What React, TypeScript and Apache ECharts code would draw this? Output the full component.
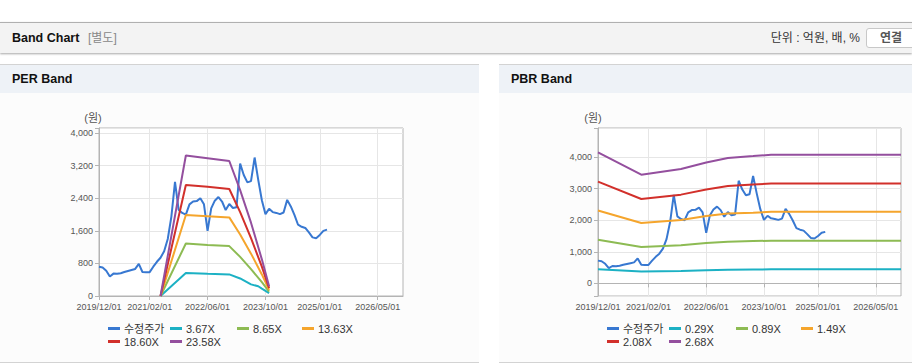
import React, { useEffect, useRef } from 'react';
import * as echarts from 'echarts';

// ---------- categories (monthly, 2019/12 .. 2026/12) ----------
const CATEGORIES: string[] = Array.from({ length: 85 }, (_, i) => {
  const m0 = 11 + i;
  const y = 2019 + Math.floor(m0 / 12);
  const m = (m0 % 12) + 1;
  return `${y}/${String(m).padStart(2, '0')}/01`;
});
const TICK_LABELS = ['2019/12/01', '2021/02/01', '2022/06/01', '2023/10/01', '2025/01/01', '2026/05/01'];

// ---------- price (수정주가), monthly from 2019/12 ----------
const PRICE = [
  720, 700, 620, 480, 550, 545, 560, 590, 615, 640,
  665, 790, 590, 585, 585, 720, 840, 940, 1100, 1400,
  1950, 2800, 2120, 2040, 2000, 2250, 2320, 2330, 2400, 2250,
  1600, 2150, 2340, 2430, 2320, 2110, 2260, 2160, 2180, 3250,
  2970, 2790, 2820, 3400, 2850, 2350, 2010, 2140, 2060, 2040,
  2010, 2050, 2360, 2200, 1990, 1750, 1700, 1670, 1560, 1440,
  1420, 1500, 1600, 1630,
];

// ---------- PER band lines ----------
const PER_NAMES = ['3.67X', '8.65X', '13.63X', '18.60X', '23.58X'];
const PER_367: [string, number][] = [
  ['2021/05/01', 0], ['2021/12/01', 565], ['2022/06/01', 545], ['2022/12/01', 530],
  ['2023/03/01', 430], ['2023/06/01', 285], ['2023/08/01', 240], ['2023/09/01', 180], ['2023/11/01', 70],
];
const PER_865: [string, number][] = [
  ['2021/05/01', 0], ['2021/12/01', 1290], ['2022/06/01', 1255], ['2022/12/01', 1225],
  ['2023/03/01', 960], ['2023/06/01', 660], ['2023/09/01', 340], ['2023/11/01', 110],
];
const PER_1363: [string, number][] = [
  ['2021/05/01', 0], ['2021/12/01', 1988], ['2022/06/01', 1960], ['2022/12/01', 1930],
  ['2023/03/01', 1510], ['2023/06/01', 1040], ['2023/09/01', 530], ['2023/11/01', 150],
];
const PER_1860: [string, number][] = [
  ['2021/05/01', 0], ['2021/12/01', 2727], ['2022/06/01', 2680], ['2022/12/01', 2628],
  ['2023/03/01', 2060], ['2023/06/01', 1420], ['2023/09/01', 720], ['2023/11/01', 195],
];
const PER_2358: [string, number][] = [
  ['2021/05/01', 0], ['2021/12/01', 3450], ['2022/06/01', 3385], ['2022/12/01', 3315],
  ['2023/03/01', 2600], ['2023/06/01', 1800], ['2023/09/01', 900], ['2023/11/01', 240],
];

// ---------- PBR band lines ----------
const PBR_NAMES = ['0.29X', '0.89X', '1.49X', '2.08X', '2.68X'];
const PBR_DATES = ['2019/12/01', '2020/12/01', '2021/11/01', '2022/06/01', '2022/12/01', '2023/07/01', '2023/12/01', '2026/12/01'];
const PBR_029 = [450, 375, 390, 415, 430, 440, 445, 445];
const PBR_089 = [1380, 1150, 1205, 1275, 1320, 1340, 1350, 1350];
const PBR_149 = [2310, 1910, 2010, 2130, 2210, 2240, 2265, 2265];
const PBR_208 = [3220, 2670, 2810, 2970, 3080, 3130, 3160, 3160];
const PBR_268 = [4150, 3440, 3620, 3830, 3970, 4030, 4075, 4075];

const PRICE_NAME = '수정주가';
const COLORS = ['#3878d1', '#1cb1c4', '#8dbb53', '#f5a52c', '#d2302b', '#944f9e'];
const FONT = "'Liberation Sans', 'Noto Sans CJK KR', sans-serif";

const tickIdx = new Set(TICK_LABELS.map((t) => CATEGORIES.indexOf(t)));
const showTick = (i: number) => tickIdx.has(i);
const fmtNum = (step: number) => (v: number) =>
  v % step === 0 && v >= 0 ? String(v).replace(/\B(?=(\d{3})+(?!\d))/g, ',') : '';

function buildOption() {
  const grids = [
    { left: 99, top: 128, width: 304, height: 168 },
    { left: 598, top: 128, width: 303, height: 168 },
  ].map((g) => ({ ...g, show: true, borderColor: '#b4b4b4', borderWidth: 1, backgroundColor: '#ffffff' }));

  const xAxis = [0, 1].map((gi) => ({
    type: 'category',
    gridIndex: gi,
    data: CATEGORIES,
    boundaryGap: false,
    axisLine: { show: true, lineStyle: { color: '#b4b4b4' } },
    axisTick: { show: true, interval: showTick, length: 4, lineStyle: { color: '#b4b4b4' } },
    axisLabel: { interval: showTick, fontSize: 9, color: '#555', margin: 6, fontFamily: FONT },
    splitLine: { show: true, interval: showTick, lineStyle: { color: '#e6e6e6' } },
  }));

  const yAxis = [
    {
      type: 'value', gridIndex: 0, min: 0, max: 4125, interval: 800,
      axisLine: { show: true, lineStyle: { color: '#b4b4b4' } },
      axisTick: { show: true, length: 4, lineStyle: { color: '#b4b4b4' } },
      axisLabel: { formatter: fmtNum(800), fontSize: 9, color: '#555', margin: 6, fontFamily: FONT },
      splitLine: { show: true, lineStyle: { color: '#e6e6e6' } },
    },
    {
      type: 'value', gridIndex: 1, min: -400, max: 4920, splitNumber: 5,
      axisLine: { show: true, lineStyle: { color: '#b4b4b4' } },
      axisTick: { show: true, length: 4, lineStyle: { color: '#b4b4b4' } },
      axisLabel: { formatter: fmtNum(1000), fontSize: 9, color: '#555', margin: 6, fontFamily: FONT },
      splitLine: { show: true, lineStyle: { color: '#e6e6e6' } },
    },
  ];

  const line = (name: string, data: any[], ci: number, g: number) => ({
    name, type: 'line', xAxisIndex: g, yAxisIndex: g, data,
    symbol: 'none', showSymbol: false, connectNulls: true,
    lineStyle: { width: 2, color: COLORS[ci] }, itemStyle: { color: COLORS[ci] },
    emphasis: { disabled: true },
  });

  const perBands = [PER_367, PER_865, PER_1363, PER_1860, PER_2358];
  const pbrBands = [PBR_029, PBR_089, PBR_149, PBR_208, PBR_268];

  const series: any[] = [line(PRICE_NAME, PRICE, 0, 0)];
  perBands.forEach((d, i) => series.push(line(PER_NAMES[i], d, i + 1, 0)));
  series.push(line(PRICE_NAME, PRICE, 0, 1));
  pbrBands.forEach((vals, i) =>
    series.push(line(PBR_NAMES[i], vals.map((v, k) => [PBR_DATES[k], v]), i + 1, 1))
  );

  const legendSlots = [[0, 0], [62, 0], [129, 0], [194, 0], [0, 1], [62, 1]];
  const rowTop = [323, 336];
  const mkLegends = (names: string[], baseX: number) =>
    names.map((n, i) => ({
      data: [n],
      left: baseX + legendSlots[i][0],
      top: rowTop[legendSlots[i][1]],
      icon: 'rect', itemWidth: 12, itemHeight: 3, itemGap: 0, padding: 0,
      selectedMode: false,
      textStyle: { fontSize: 11, color: '#333', fontFamily: FONT, padding: [0, 0, 0, -1] },
    }));

  const legend = [
    ...mkLegends([PRICE_NAME, ...PER_NAMES], 108),
    ...mkLegends([PRICE_NAME, ...PBR_NAMES], 607),
  ];

  const graphic = [
    { type: 'text', x: 93, y: 118, style: { text: '(원)', fill: '#555', font: `11px ${FONT}`, textAlign: 'center', textVerticalAlign: 'middle' } },
    { type: 'text', x: 593, y: 118, style: { text: '(원)', fill: '#555', font: `11px ${FONT}`, textAlign: 'center', textVerticalAlign: 'middle' } },
  ];

  return { animation: false, grid: grids, xAxis, yAxis, series, legend, graphic };
}

export default function App() {
  const ref = useRef<HTMLDivElement>(null);
  useEffect(() => {
    document.body.style.margin = '0';
    const chart = echarts.init(ref.current as HTMLDivElement, null, { renderer: 'svg' });
    chart.setOption(buildOption() as any);
    return () => chart.dispose();
  }, []);

  const panel = (left: number, width: number, title: string) => (
    <div
      style={{
        position: 'absolute', left, top: 64, width, height: 297,
        borderTop: '1px solid #d3d3d3', borderBottom: '1px solid #d3d3d3', background: '#fcfcfc',
      }}
    >
      <div
        style={{
          height: 28, lineHeight: '28px', background: '#eef2f7', paddingLeft: 12,
          fontSize: 12.5, fontWeight: 'bold', color: '#111',
        }}
      >
        {title}
      </div>
    </div>
  );

  return (
    <div style={{ position: 'relative', width: 912, height: 364, overflow: 'hidden', background: '#fff', fontFamily: FONT }}>
      <div
        style={{
          position: 'absolute', left: 0, top: 22, width: 912, height: 30,
          background: '#f3f3f3', borderTop: '1px solid #b0b0b0', boxShadow: '0 1px 2px rgba(0,0,0,0.35)',
        }}
      >
        <span style={{ position: 'absolute', left: 12, top: 0, lineHeight: '30px', fontSize: 12.5, fontWeight: 'bold', color: '#111' }}>
          Band Chart
        </span>
        <span style={{ position: 'absolute', left: 88, top: 0, lineHeight: '30px', fontSize: 12, color: '#888' }}>[별도]</span>
        <span style={{ position: 'absolute', right: 52, top: 0, lineHeight: '30px', fontSize: 12, color: '#333' }}>
          단위 : 억원, 배, %
        </span>
        <div
          style={{
            position: 'absolute', left: 866, top: 5, width: 52, height: 18, lineHeight: '18px',
            border: '1px solid #c8c8c8', borderRadius: 3, background: '#fff',
            fontSize: 12, fontWeight: 'bold', color: '#555', paddingLeft: 13, boxSizing: 'content-box',
          }}
        >
          연결
        </div>
      </div>
      {panel(0, 479, 'PER Band')}
      {panel(499, 413, 'PBR Band')}
      <div ref={ref} style={{ position: 'absolute', left: 0, top: 0, width: 912, height: 364 }} />
    </div>
  );
}
